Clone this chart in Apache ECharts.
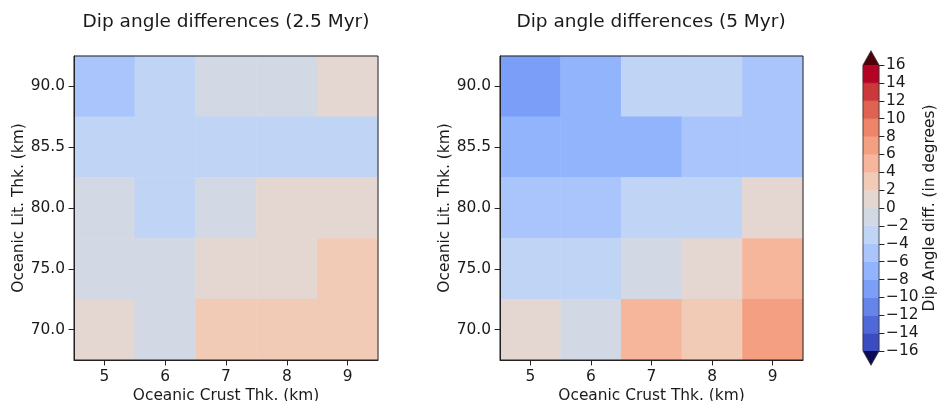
<!DOCTYPE html>
<html>
<head>
<meta charset="utf-8">
<title>Dip angle differences</title>
<script src="https://cdn.jsdelivr.net/npm/echarts@6.0.0/dist/echarts.min.js"></script>
<style>
  html, body { margin: 0; padding: 0; background: #fff; }
  #chart { width: 939px; height: 401px; }
</style>
</head>
<body>
<div id="chart"></div>
<script>
// Oceanic crust thickness (km), x categories
const crustThk = ['5', '6', '7', '8', '9'];
// Oceanic lithosphere thickness (km), y categories bottom to top
const litThk = ['70.0', '75.0', '80.0', '85.5', '90.0'];

// Dip angle differences in degrees; rows from 90.0 km (top) down to 70.0 km
const dip25Rows = [
  [-4.8, -2.7, -1.2, -0.8,  0.9],
  [-3.1, -2.9, -2.4, -3.3, -2.6],
  [-1.1, -2.5, -0.7,  0.6,  1.2],
  [-0.9, -1.4,  0.8,  1.5,  2.6],
  [ 1.1, -0.5,  3.0,  2.4,  3.2]
];
const dip5Rows = [
  [-9.1, -7.2, -3.4, -2.8, -5.1],
  [-7.5, -6.8, -6.3, -4.6, -5.4],
  [-5.3, -4.4, -3.1, -2.6,  1.4],
  [-2.9, -3.6, -1.3,  0.9,  4.7],
  [ 0.8, -0.6,  5.2,  3.4,  6.9]
];

// Colour levels of the discrete colour scale
const levels = [-16, -14, -12, -10, -8, -6, -4, -2, 0, 2, 4, 6, 8, 10, 12, 14, 16];
// coolwarm colours, one per interval between levels
const binColors = [
  '#3b4cc0', '#5069d8', '#6585eb', '#7b9ff9',
  '#92b4fd', '#a9c5fc', '#c0d4f5', '#d3d9e4',
  '#e4d6d0', '#f2cbb7', '#f5b69c', '#f49f81',
  '#ee8468', '#de6350', '#cb383a', '#b40426'
];
const underColor = '#0c0b55';
const overColor = '#4e0009';

const FONT = 'DejaVu Sans';
const INK = '#1a1a1a';
const FS = 15.4;

function cells(rows) {
  const out = [];
  rows.forEach((row, r) => {
    row.forEach((v, c) => out.push([c, litThk.length - 1 - r, v]));
  });
  return out;
}

function catX(gridIndex) {
  return {
    type: 'category', gridIndex, data: crustThk, z: 10,
    name: 'Oceanic Crust Thk. (km)', nameLocation: 'middle', nameGap: 26,
    nameTextStyle: { fontFamily: FONT, fontSize: FS, color: INK },
    axisLine: { show: true, lineStyle: { color: '#222', width: 1 } },
    axisTick: { show: true, alignWithLabel: true, length: 5.4, interval: 0, lineStyle: { color: '#222' } },
    axisLabel: { fontFamily: FONT, fontSize: FS, color: INK, margin: 9, interval: 0 },
    splitLine: { show: false }
  };
}
function catY(gridIndex, gap) {
  return {
    type: 'category', gridIndex, data: litThk, z: 10,
    name: 'Oceanic Lit. Thk. (km)', nameLocation: 'middle', nameGap: gap, nameRotate: 90,
    nameTextStyle: { fontFamily: FONT, fontSize: FS, color: INK },
    axisLine: { show: true, lineStyle: { color: '#222', width: 1 } },
    axisTick: { show: true, alignWithLabel: true, length: 5.4, interval: 0, lineStyle: { color: '#222' } },
    axisLabel: { fontFamily: FONT, fontSize: FS, color: INK, margin: 9, interval: 0 },
    splitLine: { show: false }
  };
}

// Colour bar: one rectangle per level interval, triangles for the extensions
const barData = [];
for (let i = 0; i < binColors.length; i++) {
  barData.push({ value: [levels[i], levels[i + 1], 0], itemStyle: { color: binColors[i] } });
}
const extLen = 1.6;
barData.push({ value: [levels[0], levels[0] - extLen, 1], itemStyle: { color: underColor } });
barData.push({ value: [levels[levels.length - 1], levels[levels.length - 1] + extLen, 1], itemStyle: { color: overColor } });
barData.push({ value: [levels[0] - extLen, levels[levels.length - 1] + extLen, 2], itemStyle: { color: 'none' } });

function renderBar(params, api) {
  const lo = api.value(0), hi = api.value(1), kind = api.value(2);
  const a = api.coord([0, lo]);
  const b = api.coord([0, hi]);
  const w = api.size([1, 0])[0];
  const x0 = a[0] - w / 2, x1 = a[0] + w / 2;
  if (kind === 0) {
    const col = api.visual('color');
    return { type: 'rect', shape: { x: x0, y: b[1], width: w, height: a[1] - b[1] },
             style: { fill: col, stroke: col, lineWidth: 0.5 } };
  }
  if (kind === 1) {
    return { type: 'polygon', shape: { points: [[x0, a[1]], [x1, a[1]], [a[0], b[1]]] },
             style: { fill: api.visual('color') } };
  }
  const bot = api.coord([0, levels[0]])[1];
  const top = api.coord([0, levels[levels.length - 1]])[1];
  return { type: 'polygon', z2: 10,
           shape: { points: [[a[0], a[1]], [x0, bot], [x0, top], [a[0], b[1]], [x1, top], [x1, bot]] },
           style: { fill: 'none', stroke: '#333', lineWidth: 0.8 } };
}

const pieces = [];
for (let i = 0; i < binColors.length; i++) {
  pieces.push({ gte: levels[i], lt: levels[i + 1], color: binColors[i] });
}

const option = {
  backgroundColor: '#fff',
  animation: false,
  textStyle: { fontFamily: FONT },
  title: [
    { text: 'Dip angle differences (2.5 Myr)', left: 226, top: 13, textAlign: 'center', padding: 0,
      textStyle: { fontFamily: FONT, fontSize: 18.5, fontWeight: 'normal', color: INK } },
    { text: 'Dip angle differences (5 Myr)', left: 651, top: 13, textAlign: 'center', padding: 0,
      textStyle: { fontFamily: FONT, fontSize: 18.5, fontWeight: 'normal', color: INK } }
  ],
  grid: [
    { left: 74, top: 56, width: 304, height: 304, outerBoundsMode: 'none',
      show: true, z: 10, borderColor: '#222', borderWidth: 1, backgroundColor: 'transparent' },
    { left: 500, top: 56, width: 303, height: 304, outerBoundsMode: 'none',
      show: true, z: 10, borderColor: '#222', borderWidth: 1, backgroundColor: 'transparent' },
    { left: 863, top: 65, width: 16, height: 286, outerBoundsMode: 'none' }
  ],
  xAxis: [
    catX(0), catX(1),
    { type: 'category', gridIndex: 2, data: [''], show: false }
  ],
  yAxis: [
    catY(0, 48), catY(1, 47),
    { type: 'value', gridIndex: 2, min: -16, max: 16, interval: 2, position: 'right',
      name: 'Dip Angle diff. (in degrees)', nameLocation: 'middle', nameGap: 41, nameRotate: 90,
      nameTextStyle: { fontFamily: FONT, fontSize: FS, color: INK },
      axisLine: { show: false },
      axisTick: { show: true, length: 5.4, lineStyle: { color: '#222' } },
      axisLabel: { fontFamily: FONT, fontSize: FS, color: INK, margin: 7, showMinLabel: true, showMaxLabel: true,
                   formatter: v => (v < 0 ? '\u2212' + Math.abs(v) : String(v)) },
      splitLine: { show: false } }
  ],
  visualMap: {
    type: 'piecewise', show: false, seriesIndex: [0, 1], dimension: 2, pieces
  },
  series: [
    { type: 'heatmap', xAxisIndex: 0, yAxisIndex: 0, data: cells(dip25Rows), itemStyle: { borderWidth: 0 } },
    { type: 'heatmap', xAxisIndex: 1, yAxisIndex: 1, data: cells(dip5Rows), itemStyle: { borderWidth: 0 } },
    { type: 'custom', xAxisIndex: 2, yAxisIndex: 2, renderItem: renderBar, data: barData, clip: false, silent: true }
  ]
};

const chart = echarts.init(document.getElementById('chart'), null, { renderer: 'canvas' });
chart.setOption(option);
</script>
</body>
</html>
